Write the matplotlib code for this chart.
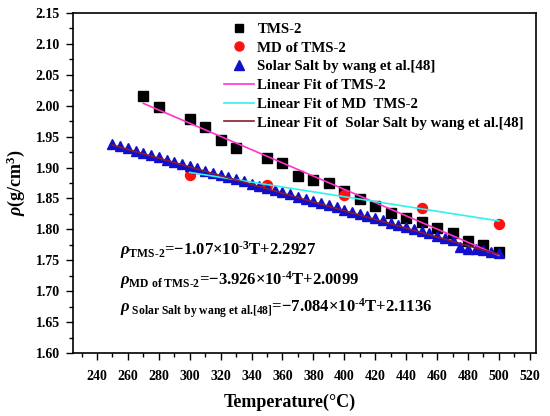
import numpy as np
import matplotlib
matplotlib.use("Agg")
import matplotlib.pyplot as plt
from matplotlib.ticker import MultipleLocator
from matplotlib.lines import Line2D

plt.rcParams['font.family'] = ['Liberation Serif', 'DejaVu Serif']
plt.rcParams['font.weight'] = 'bold'
plt.rcParams['mathtext.fontset'] = 'custom'
plt.rcParams['mathtext.rm'] = 'Liberation Serif:bold'
plt.rcParams['mathtext.it'] = 'Liberation Serif:bold:italic'
plt.rcParams['mathtext.bf'] = 'Liberation Serif:bold'

# ---- data ----
tms_T = [270, 280, 300, 310, 320, 330, 350, 360, 370, 380, 390, 400, 410, 420, 430,
         440, 450, 460, 470, 480, 490, 500]
tms_rho = [2.0157, 1.9985, 1.9778, 1.966, 1.9444, 1.9316, 1.9154, 1.907, 1.8863, 1.8795,
           1.8755, 1.8617, 1.8499, 1.8381, 1.8268, 1.8187, 1.8124, 1.8017, 1.7936, 1.7811,
           1.7742, 1.7638]

md_T = [300, 350, 400, 450, 500]
md_rho = [1.888, 1.872, 1.856, 1.835, 1.809]

ss_T = [250, 255, 260, 265, 270, 275, 280, 285, 290, 295, 300, 305, 310, 315, 320,
        325, 330, 335, 340, 345, 350, 355, 360, 365, 370, 375, 380, 385, 390, 395,
        400, 405, 410, 415, 420, 425, 430, 435, 440, 445, 450, 455, 460, 465, 470,
        475, 480, 485, 490, 495, 500]
ss_rho = [1.9385, 1.9345, 1.931, 1.927, 1.924, 1.920, 1.9165, 1.913, 1.9095, 1.906,
          1.902, 1.8985, 1.895, 1.8915, 1.888, 1.8845, 1.881, 1.8775, 1.874, 1.8705,
          1.867, 1.8635, 1.860, 1.8565, 1.853, 1.8495, 1.846, 1.8425, 1.839, 1.8355,
          1.832, 1.8285, 1.825, 1.8215, 1.818, 1.8145, 1.811, 1.8075, 1.804, 1.8005,
          1.797, 1.7935, 1.790, 1.786, 1.782, 1.772, 1.768, 1.769, 1.766, 1.763, 1.762]

# linear fit coefficients (slope, intercept) and ranges
fit_tms = (-1.07e-3, 2.2927)
fit_md = (-3.926e-4, 2.0099)
fit_ss = (-7.084e-4, 2.1136)
range_tms = (270, 500)
range_md = (300, 500)
range_ss = (250, 500)

legend_labels = ["TMS-2", "MD of TMS-2", "Solar Salt by wang et al.[48]",
                 "Linear Fit of TMS-2", "Linear Fit of MD  TMS-2",
                 "Linear Fit of  Solar Salt by wang et al.[48]"]

xticks = list(range(240, 521, 20))
yticks = [1.60, 1.65, 1.70, 1.75, 1.80, 1.85, 1.90, 1.95, 2.00, 2.05, 2.10, 2.15]

c_tms_line = '#FF33CC'
c_md_line = '#33F0F0'
c_ss_line = '#8B1A2A'

fig = plt.figure(figsize=(5.5, 4.16), dpi=100)
ax = fig.add_axes([73/550, 1-353/416, (536-73)/550, (353-13)/416])

def fitline(coef, rng):
    x = np.array(rng, dtype=float)
    return x, np.polyval(coef, x)

ax.plot(tms_T, tms_rho, 's', color='black', markersize=6.8, zorder=3)
ax.plot(md_T, md_rho, 'o', color='#FF1010', markersize=7.2, zorder=3)
ax.plot(ss_T, ss_rho, '^', color='#1010CC', markersize=7, zorder=3)

x, y = fitline(fit_tms, range_tms)
ax.plot(x, y, '-', color=c_tms_line, lw=1.2, zorder=4)
x, y = fitline(fit_md, range_md)
ax.plot(x, y, '-', color=c_md_line, lw=1.2, zorder=4)
x, y = fitline(fit_ss, range_ss)
ax.plot(x, y, '-', color=c_ss_line, lw=1.2, zorder=4)

ax.set_xlim(224.5, 524)
ax.set_ylim(1.60, 2.15)
ax.set_xticks(xticks)
ax.set_yticks(yticks)
ax.set_yticklabels([f"{v:.2f}" for v in yticks])
ax.xaxis.set_minor_locator(MultipleLocator(10))
ax.yaxis.set_minor_locator(MultipleLocator(0.025))
ax.tick_params(which='both', direction='out', top=False, right=False, width=1.0)
ax.tick_params(which='major', length=5, labelsize=10)
ax.tick_params(which='minor', length=3)
ax.tick_params(axis='x', which='major', pad=7)
ax.tick_params(axis='y', which='major', pad=4.5)
for lab in ax.get_xticklabels() + ax.get_yticklabels():
    lab.set_fontweight('bold')
for s in ax.spines.values():
    s.set_linewidth(1.2)

ax.set_xlabel("Temperature(\u00b0C)", fontsize=13, fontweight='bold')
ax.xaxis.label.set_va('center')
ax.xaxis.set_label_coords((290-73)/463, -(402-353)/340)
ax.set_ylabel(r"$\rho$(g/cm$^{3}$)", fontsize=13, fontweight='bold', labelpad=6)

handles = [
    Line2D([], [], ls='none', marker='s', color='black', markersize=6),
    Line2D([], [], ls='none', marker='o', color='#FF1010', markersize=6.5),
    Line2D([], [], ls='none', marker='^', color='#1010CC', markersize=6.5),
    Line2D([], [], color=c_tms_line, lw=1.2),
    Line2D([], [], color=c_md_line, lw=1.2),
    Line2D([], [], color=c_ss_line, lw=1.2),
]
fig.legend(handles, legend_labels, loc='upper left', bbox_to_anchor=(224/550, 1-22.5/416),
           frameon=False, labelspacing=0.36, handlelength=2.0,
           handletextpad=0.25, borderpad=0, borderaxespad=0,
           prop={'family': 'Liberation Serif', 'weight': 'bold', 'size': 10.7})

txt_kw = dict(transform=fig.transFigure, fontsize=12, fontweight='bold', va='center', ha='left')
fig.text(120/550, 1-250/416,
         r"$\rho_{\text{TMS-2}}$=$-$1.07×10$^{\text{-3}}$T+2.2927", **txt_kw)
fig.text(120/550, 1-280/416,
         r"$\rho_{\text{MD of TMS-2}}$=$-$3.926×10$^{\text{-4}}$T+2.0099", **txt_kw)
fig.text(120/550, 1-308/416,
         r"$\rho_{\text{ Solar Salt by wang et al.[48]}}$=$-$7.084×10$^{\text{-4}}$T+2.1136", **txt_kw)

fig.savefig("out.png", dpi=100)
